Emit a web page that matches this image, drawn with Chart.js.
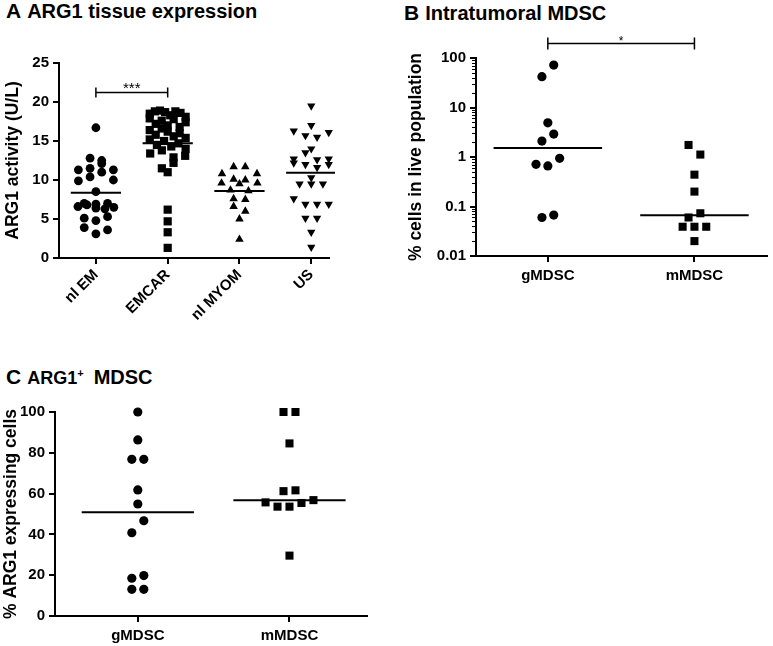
<!DOCTYPE html>
<html>
<head>
<meta charset="utf-8">
<script src="https://cdn.jsdelivr.net/npm/chart.js@4.4.1/dist/chart.umd.min.js"></script>
<style>
  body { margin: 0; width: 773px; height: 646px; background: #fff; position: relative; overflow: hidden;
         font-family: "Liberation Sans", Arial, sans-serif; color: #000; }
  .ttl { position: absolute; font-weight: bold; font-size: 20px; line-height: 20px; white-space: nowrap; }
  .ttl .l { font-size: 21px; margin-right: 6px; }
  .box { position: absolute; }
</style>
</head>
<body>
<div class="ttl" style="left:6px;top:1px"><span class="l">A</span>ARG1 tissue expression</div>
<div class="ttl" style="left:404px;top:3px"><span class="l">B</span>Intratumoral MDSC</div>
<div class="ttl" style="left:6px;top:367px"><span class="l">C</span><span style="font-size:18px">ARG1<sup style="font-size:11px;line-height:0">+</sup></span><span style="margin-left:10px">MDSC</span></div>

<div class="box" style="left:0;top:50px;width:335px;height:270px"><canvas id="chartA"></canvas></div>
<div class="box" style="left:405px;top:20px;width:368px;height:276px"><canvas id="chartB"></canvas></div>
<div class="box" style="left:0;top:395px;width:373px;height:251px"><canvas id="chartC"></canvas></div>

<script>
// ---- panel A: ARG1 activity (U/L) per tissue group, line = mean
const groupsA = ['nl EM', 'EMCAR', 'nl MYOM', 'US'];
const nlEM = [16.7, 12.8, 12.5, 11.3, 11.5, 12.1, 11.3, 9.9, 10.4, 11.0, 10.0, 8.5, 7.0, 6.9, 7.0,
              6.6, 6.8, 6.4, 6.3, 6.5, 5.1, 4.8, 5.3, 3.9, 3.1, 3.6];
const emcar = [18.5, 18.8, 18.9, 18.7, 18.3, 18.8, 18.6, 18.1,
               17.9, 17.2, 17.6, 17.0, 17.8, 16.8, 17.4,
               16.4, 15.8, 16.6, 16.2, 15.6, 16.0, 15.4,
               15.2, 14.5, 15.0, 14.3, 14.7, 14.0,
               13.4, 13.8, 12.9, 13.1,
               11.5, 12.2, 11.0,
               6.2, 4.7, 3.3, 1.3];
const nlMyom = [11.7, 11.7, 10.8, 10.1, 10.0, 10.8, 9.6, 8.7, 9.5, 8.6, 9.6, 7.6, 7.5, 6.6, 6.0, 5.0, 2.4];
const us = [19.5, 17.0, 16.3, 15.7, 15.5, 16.1, 14.0, 12.7, 13.5, 12.6, 12.7, 12.2, 12.0, 11.6, 12.0,
            10.3, 9.5, 9.5, 9.5, 7.6, 6.9, 6.9, 6.9, 5.1, 5.1, 3.3, 1.4];
const sigA = { from: 0, to: 1, level: 21.3, text: '***' };

// ---- panel B: % cells in live population (log), line = median
const groupsB = ['gMDSC', 'mMDSC'];
const gMdscB = [42, 72, 4.9, 2.1, 2.9, 0.71, 0.66, 0.94, 0.06, 0.067];
const mMdscB = [1.75, 1.12, 0.44, 0.2, 0.06, 0.073, 0.039, 0.039, 0.039, 0.02];
const logTicksB = [0.01, 0.1, 1, 10, 100];
const sigB = { from: 0, to: 1, level: 200, text: '*' };

// ---- panel C: % ARG1 expressing cells, line = median
const groupsC = ['gMDSC', 'mMDSC'];
const gMdscC = [100, 86.3, 76.8, 76.8, 61.8, 54.9, 40.8, 46.7, 18.5, 19.8, 13.1, 13.1];
const mMdscC = [100, 100, 84.6, 61.2, 61.6, 55.7, 53.6, 53.6, 55.4, 56.8, 29.6];

Chart.defaults.font.family = '"Liberation Sans", Arial, sans-serif';
Chart.defaults.color = '#000';

const mean = a => a.reduce((s, v) => s + v, 0) / a.length;
const median = a => {
  const s = [...a].sort((p, q) => p - q), m = s.length >> 1;
  return s.length % 2 ? s[m] : (s[m - 1] + s[m]) / 2;
};

// prism style column scatter: points in the same horizontal band sit side by side
function spread(vals, toPx, band, slot, maxW) {
  const rows = {};
  vals.forEach((v, i) => {
    const k = Math.floor(toPx(v) / band);
    (rows[k] = rows[k] || []).push(i);
  });
  const off = vals.map(() => 0);
  Object.values(rows).forEach(idx => {
    const n = idx.length, step = n > 1 ? Math.min(slot, maxW / (n - 1)) : 0;
    idx.forEach((i, k) => { off[i] = (k - (n - 1) / 2) * step; });
  });
  return off;
}

function column(vals, i, o, style, r, rot) {
  const off = spread(vals, o.toPx, o.band, o.slot, o.maxW);
  return {
    type: 'scatter', clip: false,
    data: vals.map((v, k) => ({ x: i + off[k] / o.catPx, y: v })),
    pointStyle: style, pointRadius: r, pointHoverRadius: r, rotation: rot || 0,
    backgroundColor: '#000', borderWidth: 0
  };
}

function centreLine(val, i, half) {
  return {
    type: 'line', showLine: true, clip: false,
    data: [{ x: i - half, y: val }, { x: i + half, y: val }],
    borderColor: '#000', borderWidth: 2, pointRadius: 0
  };
}

function bracketPlugin(b, cap, font, dy) {
  return {
    id: 'bracket',
    afterDatasetsDraw(chart) {
      const { ctx, scales: { x, y } } = chart;
      const x0 = x.getPixelForValue(b.from), x1 = x.getPixelForValue(b.to);
      const yy = Math.round(y.getPixelForValue(b.level)) + 0.5;
      ctx.save();
      ctx.strokeStyle = '#000';
      ctx.lineWidth = 1.5;
      ctx.beginPath();
      ctx.moveTo(x0, yy); ctx.lineTo(x1, yy);
      ctx.moveTo(x0, yy - cap); ctx.lineTo(x0, yy + cap);
      ctx.moveTo(x1, yy - cap); ctx.lineTo(x1, yy + cap);
      ctx.stroke();
      ctx.fillStyle = '#000';
      ctx.font = font;
      ctx.textAlign = 'center';
      ctx.textBaseline = 'alphabetic';
      ctx.fillText(b.text, (x0 + x1) / 2, yy + dy);
      ctx.restore();
    }
  };
}

const minorLogTicks = {
  id: 'minorLog',
  afterDraw(chart) {
    const y = chart.scales.y, ctx = chart.ctx, left = chart.chartArea.left;
    ctx.save();
    ctx.strokeStyle = '#000';
    ctx.lineWidth = 1;
    ctx.beginPath();
    for (let d = -2; d < 2; d++) {
      for (let k = 2; k < 10; k++) {
        const py = Math.round(y.getPixelForValue(k * Math.pow(10, d))) + 0.5;
        ctx.moveTo(left - 4, py); ctx.lineTo(left, py);
      }
    }
    ctx.stroke();
    ctx.restore();
  }
};

function xAxis(names, min, max, height, ticks) {
  return {
    type: 'linear', min, max,
    afterBuildTicks: s => { s.ticks = names.map((_, i) => ({ value: i })); },
    afterFit: s => { s.height = height; },
    ticks: Object.assign({ callback: v => names[v], autoSkip: false,
                           font: { size: 15, weight: 'bold' }, padding: 5 }, ticks),
    grid: { drawOnChartArea: false, tickLength: 6, color: '#000', lineWidth: 2 },
    border: { color: '#000', width: 2 }
  };
}

function yAxis(width, title, titlePad, extra, ticks) {
  return Object.assign({
    afterFit: s => { s.width = width; },
    title: { display: true, text: title, font: { size: 17.5, weight: 'bold' }, padding: { top: titlePad, bottom: 0 } },
    ticks: Object.assign({ font: { size: 15, weight: 'bold' }, padding: 4 }, ticks),
    grid: { drawOnChartArea: false, tickLength: 6, color: '#000', lineWidth: 2 },
    border: { color: '#000', width: 2 }
  }, extra);
}

const base = (padding) => ({
  responsive: true, maintainAspectRatio: false, animation: false, events: [],
  layout: { padding },
  plugins: { legend: { display: false }, tooltip: { enabled: false } }
});

// ---- chart A
const geoA = { toPx: v => (25 - v) * 197 / 25, band: 11, slot: 11.7, maxW: 36, catPx: 72 };
new Chart(document.getElementById('chartA'), {
  type: 'scatter',
  data: {
    datasets: [
      column(nlEM, 0, geoA, 'circle', 4.4),
      column(emcar, 1, geoA, 'rect', 5.8),
      column(nlMyom, 2, geoA, 'triangle', 4.9),
      column(us, 3, geoA, 'triangle', 4.8, 180),
      centreLine(mean(nlEM), 0, 0.35),
      centreLine(mean(emcar), 1, 0.35),
      centreLine(mean(nlMyom), 2, 0.35),
      centreLine(mean(us), 3, 0.35)
    ]
  },
  options: Object.assign(base({ top: 11, right: 5, left: 0, bottom: 0 }), {
    scales: {
      x: xAxis(groupsA, -0.514, 3.25, 62, { minRotation: 45, maxRotation: 45, font: { size: 15, weight: 'bold' }, padding: 2 }),
      y: yAxis(59, 'ARG1 activity (U/L)', 3, { min: 0, max: 25 }, { stepSize: 5 })
    }
  }),
  plugins: [bracketPlugin(sigA, 5, '15px "Liberation Sans", Arial, sans-serif', 0)]
});

// ---- chart B
const geoB = { toPx: v => (2 - Math.log10(v)) * 198 / 4 - 6, band: 13, slot: 12, maxW: 50, catPx: 149 };
new Chart(document.getElementById('chartB'), {
  type: 'scatter',
  data: {
    datasets: [
      column(gMdscB, 0, geoB, 'circle', 4.6),
      column(mMdscB, 1, geoB, 'rect', 5.7),
      centreLine(median(gMdscB), 0, 0.37),
      centreLine(median(mMdscB), 1, 0.37)
    ]
  },
  options: Object.assign(base({ top: 38, right: 1, left: 0, bottom: 0 }), {
    scales: {
      x: xAxis(groupsB, -0.49, 1.497, 40, { padding: 5 }),
      y: yAxis(71, '% cells in live population', 1,
        { type: 'logarithmic', min: 0.01, max: 100,
          afterBuildTicks: s => { s.ticks = logTicksB.map(v => ({ value: v })); } },
        { callback: v => String(v) })
    }
  }),
  plugins: [bracketPlugin(sigB, 6, '12px "Liberation Sans", Arial, sans-serif', 1), minorLogTicks]
});

// ---- chart C
const geoC = { toPx: v => (100 - v) * 204 / 100 - 4, band: 13, slot: 12, maxW: 50, catPx: 152 };
new Chart(document.getElementById('chartC'), {
  type: 'scatter',
  data: {
    datasets: [
      column(gMdscC, 0, geoC, 'circle', 4.6),
      column(mMdscC, 1, geoC, 'rect', 5.7),
      centreLine(median(gMdscC), 0, 0.37),
      centreLine(median(mMdscC), 1, 0.37)
    ]
  },
  options: Object.assign(base({ top: 17, right: 5, left: 0, bottom: 0 }), {
    scales: {
      x: xAxis(groupsC, -0.546, 1.513, 30, { padding: 5 }),
      y: yAxis(55, '% ARG1 expressing cells', 1, { min: 0, max: 100 }, { stepSize: 20 })
    }
  })
});
</script>
</body>
</html>
